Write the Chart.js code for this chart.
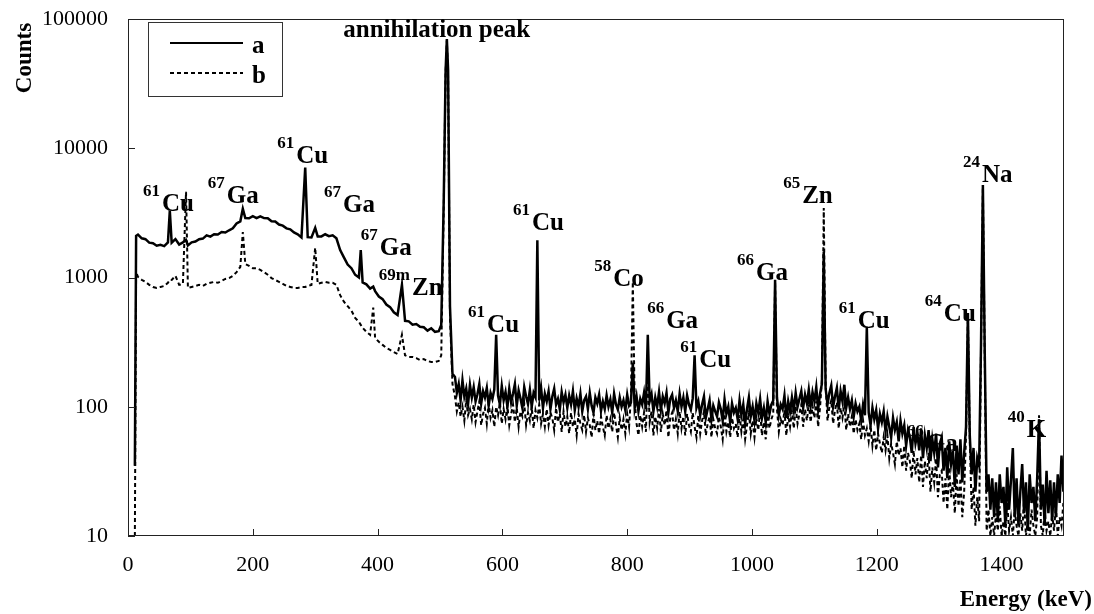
<!DOCTYPE html>
<html>
<head>
<meta charset="utf-8">
<script src="https://cdn.jsdelivr.net/npm/chart.js@4/dist/chart.umd.min.js"></script>
<style>
html, body { margin: 0; padding: 0; background: #fff; }
#wrap { width: 1094px; height: 614px; }
</style>
</head>
<body>
<div id="wrap"><canvas id="spec" width="1094" height="614"></canvas></div>
<script>
// energy axis (keV), shared by both spectra
const energy = [
  11, 13, 16, 22, 28, 34, 40, 46, 52, 58,
  64, 67, 70, 76, 82, 88, 93, 96, 102, 108,
  114, 120, 126, 132, 138, 144, 150, 156, 162, 168,
  174, 180, 184, 188, 194, 200, 206, 212, 218, 224,
  230, 236, 242, 248, 254, 260, 266, 272, 278, 284,
  288, 294, 300, 304, 310, 316, 322, 328, 334, 340,
  346, 352, 358, 364, 370, 373, 376, 382, 388, 393,
  396, 402, 408, 414, 420, 426, 432, 439, 444, 450,
  456, 462, 468, 474, 480, 486, 492, 498, 502, 506,
  509, 511, 513, 516, 520,
  524, 527, 530, 533, 536, 539, 542, 545, 548, 551,
  554, 557, 560, 563, 566, 569, 572, 575, 578, 581,
  584, 587, 590, 593, 596, 599, 602, 605, 608, 611,
  614, 617, 620, 623, 626, 629, 632, 635, 638, 641,
  644, 647, 650, 653, 656, 659, 662, 665, 668, 671,
  674, 677, 680, 683, 686, 689, 692, 695, 698, 701,
  704, 707, 710, 713, 716, 719, 722, 725, 728, 731,
  734, 737, 740, 743, 746, 749, 752, 755, 758, 761,
  764, 767, 770, 773, 776, 779, 782, 785, 788, 791,
  794, 797, 800, 803, 806, 809, 812, 815, 818, 821,
  824, 827, 830, 833, 836, 839, 842, 845, 848, 851,
  854, 857, 860, 863, 866, 869, 872, 875, 878, 881,
  884, 887, 890, 893, 896, 899, 902, 905, 908, 911,
  914, 917, 920, 923, 926, 929, 932, 935, 938, 941,
  944, 947, 950, 953, 956, 959, 962, 965, 968, 971,
  974, 977, 980, 983, 986, 989, 992, 995, 998, 1001,
  1004, 1007, 1010, 1013, 1016, 1019, 1022, 1025, 1028, 1031,
  1034, 1037, 1040, 1043, 1046, 1049, 1052, 1055, 1058, 1061,
  1064, 1067, 1070, 1073, 1076, 1079, 1082, 1085, 1088, 1091,
  1094, 1097, 1100, 1103, 1106, 1109, 1112, 1115, 1118, 1121,
  1124, 1127, 1130, 1133, 1136, 1139, 1142, 1145, 1148, 1151,
  1154, 1157, 1160, 1163, 1166, 1169, 1172, 1175, 1178, 1181,
  1184, 1187, 1190, 1193, 1196, 1199, 1202, 1205, 1208, 1211,
  1214, 1217, 1220, 1223, 1226, 1229, 1232, 1235, 1238, 1241,
  1244, 1247, 1250, 1253, 1256, 1259, 1262, 1265, 1268, 1271,
  1274, 1277, 1280, 1283, 1286, 1289, 1292, 1295, 1298, 1301,
  1304, 1307, 1310, 1313, 1316, 1319, 1322, 1325, 1328, 1331,
  1334, 1337, 1340, 1343, 1346, 1349, 1352, 1355, 1358, 1361,
  1364, 1367, 1370, 1373, 1376, 1379, 1382, 1385, 1388, 1391,
  1394, 1397, 1400, 1403, 1406, 1409, 1412, 1415, 1418, 1421,
  1424, 1427, 1430, 1433, 1436, 1439, 1442, 1445, 1448, 1451,
  1454, 1457, 1460, 1463, 1466, 1469, 1472, 1475, 1478, 1481,
  1484, 1487, 1490, 1493, 1496, 1499
];

// spectrum a (solid)
const countsA = [
  35, 2100, 2150, 2010, 1980, 1860, 1840, 1760, 1790, 1750,
  1870, 3300, 1860, 1980, 1800, 1870, 1950, 1770, 1870, 1900,
  1980, 2000, 2120, 2070, 2160, 2150, 2250, 2230, 2320, 2400,
  2620, 2720, 3400, 2880, 2870, 2980, 2880, 2970, 2880, 2870,
  2720, 2710, 2570, 2520, 2400, 2360, 2230, 2160, 2040, 7100,
  2050, 2040, 2420, 2080, 2080, 2160, 2090, 2120, 2010, 1630,
  1430, 1260, 1180, 1050, 1000, 1630, 915, 885, 820, 850,
  785, 712, 680, 618, 590, 538, 512, 877, 462, 458,
  432, 436, 416, 412, 388, 405, 380, 384, 430, 4000,
  40000, 70000, 40000, 600, 180,
  170, 128, 150, 112, 160, 120, 138, 105, 148, 118,
  142, 110, 125, 150, 106, 132, 118, 140, 102, 128,
  115, 136, 360, 122, 104, 145, 112, 130, 100, 138,
  108, 126, 150, 102, 134, 116, 98, 142, 120, 105,
  135, 100, 128, 118, 1940, 112, 140, 98, 126, 110,
  132, 96, 120, 138, 104, 115, 95, 130, 108, 124,
  98, 122, 104, 132, 94, 116, 100, 126, 92, 112,
  120, 96, 128, 102, 90, 118, 106, 124, 93, 110,
  96, 122, 100, 114, 90, 126, 104, 95, 118, 100,
  112, 94, 124, 102, 108, 220, 98, 120, 92, 115,
  104, 128, 96, 360, 110, 125, 92, 118, 100, 130,
  95, 120, 106, 128, 90, 115, 124, 98, 112, 92,
  126, 100, 118, 92, 122, 104, 95, 116, 250, 98,
  110, 86, 104, 120, 82, 96, 112, 80, 102, 92,
  84, 108, 96, 78, 114, 88, 100, 76, 106, 90,
  98, 80, 112, 86, 104, 74, 96, 118, 84, 100,
  78, 106, 90, 115, 82, 98, 76, 110, 88, 104,
  112, 960, 118, 86, 104, 96, 122, 82, 110, 92,
  118, 94, 128, 100, 115, 132, 98, 124, 106, 136,
  102, 130, 110, 142, 96, 126, 150, 1580, 138, 104,
  128, 146, 100, 120, 140, 95, 132, 110, 148, 98,
  118, 96, 112, 84, 106, 92, 100, 78, 104, 86,
  415, 90, 72, 98, 80, 94, 68, 88, 76, 92,
  64, 84, 70, 58, 82, 66, 76, 54, 78, 62,
  72, 50, 66, 58, 44, 70, 52, 62, 46, 68,
  40, 60, 48, 66, 38, 56, 44, 62, 34, 52,
  58, 32, 48, 28, 54, 36, 46, 24, 50, 30,
  56, 26, 44, 70, 530, 60, 30, 48, 22, 40,
  35, 300, 5200, 260, 22, 30, 16, 28, 14, 26,
  13, 30, 18, 24, 12, 34, 16, 27, 48, 14,
  28, 12, 22, 36, 15, 26, 11, 30, 18, 24,
  13, 28, 80, 16, 25, 12, 32, 15, 27, 13,
  26, 14, 30, 18, 42, 22
];

// spectrum b (dashed)
const countsB = [
  10, 1100, 1010, 960, 925, 877, 845, 831, 845, 860,
  910, 960, 957, 1030, 877, 893, 4600, 831, 845, 860,
  877, 860, 893, 910, 925, 910, 940, 975, 990, 1030,
  1100, 1210, 2250, 1270, 1230, 1180, 1180, 1145, 1100, 1050,
  990, 957, 925, 893, 860, 845, 831, 831, 845, 845,
  860, 877, 1700, 893, 910, 925, 910, 910, 877, 730,
  650, 600, 555, 487, 454, 430, 408, 380, 360, 585,
  341, 318, 301, 285, 275, 265, 256, 360, 250, 243,
  243, 238, 230, 234, 226, 222, 222, 226, 250, 3500,
  38000, 68000, 35000, 500, 150,
  120, 92, 108, 84, 100, 78, 112, 86, 96, 80,
  104, 76, 92, 110, 72, 88, 98, 74, 106, 82,
  94, 70, 100, 86, 108, 74, 96, 80, 102, 72,
  88, 104, 76, 98, 70, 92, 84, 106, 72, 90,
  78, 100, 68, 94, 82, 104, 74, 88, 70, 96,
  72, 90, 82, 66, 98, 76, 88, 64, 92, 70,
  84, 62, 90, 70, 80, 60, 88, 74, 66, 86,
  64, 82, 72, 58, 88, 66, 78, 62, 84, 70,
  60, 86, 68, 80, 64, 90, 72, 58, 82, 66,
  80, 62, 88, 70, 120, 925, 110, 74, 60, 86,
  70, 90, 64, 200, 76, 92, 60, 84, 68, 96,
  64, 88, 72, 94, 58, 82, 90, 66, 80, 62,
  92, 68, 84, 60, 88, 72, 64, 90, 70, 58,
  86, 62, 78, 92, 60, 74, 84, 58, 80, 68,
  62, 84, 70, 56, 88, 64, 76, 58, 82, 68,
  74, 58, 86, 64, 80, 56, 72, 90, 62, 78,
  58, 82, 66, 92, 60, 76, 56, 86, 68, 80,
  88, 930, 96, 64, 80, 72, 94, 60, 86, 70,
  92, 68, 100, 74, 88, 104, 70, 96, 78, 106,
  76, 102, 82, 110, 70, 98, 160, 3450, 150, 78,
  100, 112, 74, 94, 108, 68, 98, 82, 104, 66,
  88, 70, 84, 62, 80, 66, 74, 56, 78, 60,
  68, 54, 72, 50, 66, 46, 62, 52, 44, 58,
  46, 60, 40, 52, 44, 36, 54, 42, 48, 34,
  50, 32, 44, 38, 28, 46, 30, 40, 26, 42,
  24, 38, 28, 44, 22, 34, 26, 40, 20, 30,
  32, 18, 28, 16, 34, 20, 26, 15, 30, 17,
  28, 14, 22, 60, 500, 55, 16, 24, 12, 20,
  13, 280, 5000, 240, 11, 16, 10, 14, 10, 15,
  11, 17, 10, 13, 10, 18, 11, 14, 10, 16,
  12, 10, 15, 11, 19, 10, 13, 10, 16, 12,
  10, 14, 86, 12, 10, 16, 11, 13, 10, 15,
  11, 17, 10, 14, 12, 18
];

const xTicks = [0, 200, 400, 600, 800, 1000, 1200, 1400];
const yTicks = [10, 100, 1000, 10000, 100000];

// peak labels: isotope mass, element, anchor (energy, counts)
const labelIso = ['61', '67', '61', '67', '67', '69m', '', '61', '61', '58', '66', '61', '66', '65', '61', '64', '24', '66', '40'];
const labelEl = ['Cu', 'Ga', 'Cu', 'Ga', 'Ga', 'Zn', 'annihilation peak', 'Cu', 'Cu', 'Co', 'Ga', 'Cu', 'Ga', 'Zn', 'Cu', 'Cu', 'Na', 'Ga', 'K'];
const labelE = [24, 128, 239, 314, 373, 402, 345, 545, 617, 747, 832, 885, 976, 1050, 1139, 1277, 1338, 1248, 1410];
const labelCounts = [3270, 3775, 7690, 3215, 1495, 733, 72600, 380, 2335, 861, 408, 204, 958, 3775, 408, 462, 5490, 45.6, 58.5];

const serif = '"Liberation Serif", "Times New Roman", serif';

const toPoints = (ys) => energy.map((e, i) => ({ x: e, y: ys[i] }));

const decor = {
  id: 'decor',
  afterDatasetsDraw(chart) {
    const ctx = chart.ctx;
    const area = chart.chartArea;
    const sx = chart.scales.x;
    const sy = chart.scales.y;
    ctx.save();

    // frame + inward tick marks
    ctx.strokeStyle = '#222';
    ctx.lineWidth = 1;
    ctx.strokeRect(area.left + 0.5, area.top + 0.5, area.right - area.left - 1, area.bottom - area.top - 1);
    ctx.beginPath();
    xTicks.forEach((v) => {
      const px = Math.round(sx.getPixelForValue(v)) + 0.5;
      ctx.moveTo(px, area.bottom);
      ctx.lineTo(px, area.bottom - 7);
    });
    yTicks.forEach((v) => {
      const py = Math.round(sy.getPixelForValue(v)) + 0.5;
      ctx.moveTo(area.left, py);
      ctx.lineTo(area.left + 7, py);
    });
    ctx.stroke();

    // peak labels
    ctx.fillStyle = '#000';
    ctx.textAlign = 'left';
    ctx.textBaseline = 'alphabetic';
    labelEl.forEach((el, i) => {
      let px = sx.getPixelForValue(labelE[i]);
      const py = sy.getPixelForValue(labelCounts[i]);
      if (labelIso[i]) {
        ctx.font = 'bold 17px ' + serif;
        ctx.fillText(labelIso[i], px, py - 15);
        px += ctx.measureText(labelIso[i]).width + 2;
      }
      ctx.font = 'bold 25px ' + serif;
      ctx.fillText(el, px, py);
    });

    // legend
    const lx = area.left + 20, ly = area.top + 3;
    ctx.strokeStyle = '#333';
    ctx.lineWidth = 1;
    ctx.strokeRect(lx + 0.5, ly + 0.5, 134, 74);
    ctx.strokeStyle = '#000';
    ctx.lineWidth = 2;
    ctx.beginPath();
    ctx.moveTo(lx + 22, ly + 21);
    ctx.lineTo(lx + 95, ly + 21);
    ctx.stroke();
    ctx.setLineDash([4, 3]);
    ctx.beginPath();
    ctx.moveTo(lx + 22, ly + 51);
    ctx.lineTo(lx + 95, ly + 51);
    ctx.stroke();
    ctx.setLineDash([]);
    ctx.font = 'bold 25px ' + serif;
    ctx.fillText(chart.data.datasets[0].label, lx + 104, ly + 31);
    ctx.fillText(chart.data.datasets[1].label, lx + 104, ly + 61);

    // axis titles
    ctx.font = 'bold 23px ' + serif;
    ctx.textAlign = 'right';
    ctx.fillText('Energy (keV)', chart.width - 2, chart.height - 8);
    ctx.save();
    ctx.translate(31, 58);
    ctx.rotate(-Math.PI / 2);
    ctx.textAlign = 'center';
    ctx.fillText('Counts', 0, 0);
    ctx.restore();

    ctx.restore();
  }
};

new Chart(document.getElementById('spec'), {
  type: 'line',
  data: {
    datasets: [
      {
        label: 'a',
        data: toPoints(countsA),
        borderColor: '#000',
        borderWidth: 2.5,
        pointRadius: 0,
        tension: 0
      },
      {
        label: 'b',
        data: toPoints(countsB),
        borderColor: '#000',
        borderWidth: 2,
        borderDash: [4, 3],
        pointRadius: 0,
        tension: 0
      }
    ]
  },
  options: {
    responsive: false,
    animation: false,
    devicePixelRatio: 1,
    layout: { padding: { top: 0, right: 30, left: 0, bottom: 0 } },
    plugins: {
      legend: { display: false },
      tooltip: { enabled: false }
    },
    scales: {
      x: {
        type: 'linear',
        min: 0,
        max: 1500,
        grid: { display: false },
        border: { display: false },
        afterBuildTicks: (s) => { s.ticks = xTicks.map((v) => ({ value: v })); },
        afterFit: (s) => { s.height = 78; },
        ticks: {
          padding: 8,
          maxRotation: 0,
          color: '#000',
          font: { family: serif, size: 22 },
          callback: (v) => String(v)
        }
      },
      y: {
        type: 'logarithmic',
        min: 10,
        max: 100000,
        grid: { display: false },
        border: { display: false },
        afterBuildTicks: (s) => { s.ticks = yTicks.map((v) => ({ value: v })); },
        afterFit: (s) => {
          s.width = 128;
          s.paddingTop = 19;
          s.paddingBottom = 0;
        },
        ticks: {
          padding: 12,
          color: '#000',
          font: { family: serif, size: 22 },
          callback: (v) => String(v)
        }
      }
    }
  },
  plugins: [decor]
});
</script>
</body>
</html>
